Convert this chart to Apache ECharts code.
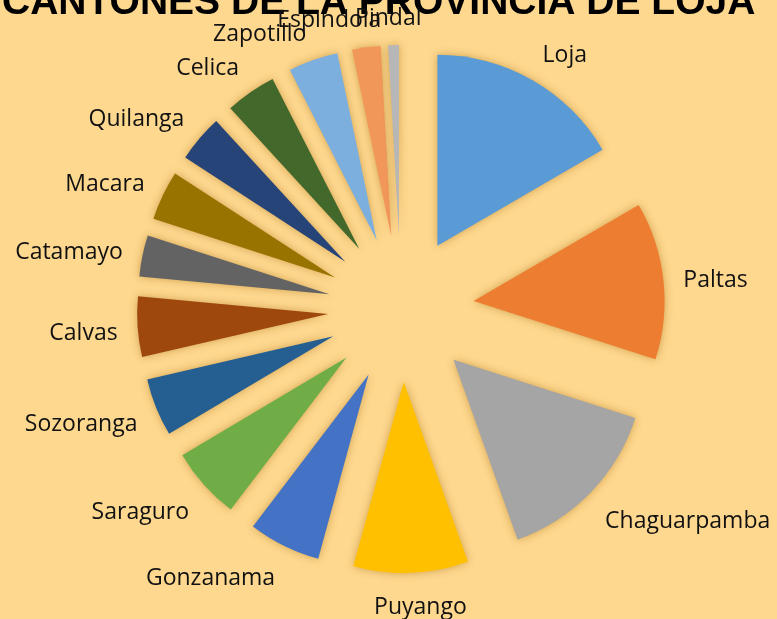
<!DOCTYPE html>
<html>
<head>
<meta charset="utf-8">
<script src="https://cdn.jsdelivr.net/npm/echarts@6/dist/echarts.min.js"></script>
<style>
html,body{margin:0;padding:0;background:#FED88F;}
#chart{width:777px;height:619px;}
</style>
</head>
<body>
<div id="chart"></div>
<script>
// Data (share of the pie, in %)
var categories = ['Loja','Paltas','Chaguarpamba','Puyango','Gonzanama','Saraguro','Sozoranga','Calvas','Catamayo','Macara','Quilanga','Celica','Zapotillo','Espindola','Pindal'];
var values = [16.6,13.3,14.6,9.7,6.1,6.1,4.9,5.1,3.5,4.2,4.0,4.3,4.2,2.4,0.9];
var colors = ['#5B9BD5','#ED7D31','#A5A5A5','#FFC000','#4472C4','#70AD47','#255E91','#9E480E','#636363','#997300','#264478','#43682B','#7CAFDD','#F1975A','#B7B7B7'];
var titleText = 'CANTONES DE LA PROVINCIA DE LOJA';

var CX = 401, CY = 309, R = 191, OFFSET = 73, GAP = 20, LABEL_H = 22, LABEL_DY = 4;

var total = values.reduce(function(a,b){return a+b;},0);
var mids = [];
(function(){
  var acc = 0;
  for (var i=0;i<values.length;i++){
    var a0 = acc/total*2*Math.PI; acc += values[i];
    var a1 = acc/total*2*Math.PI;
    mids.push((a0+a1)/2);
  }
})();
function clamp(v){return Math.max(-1,Math.min(1,v));}

// One pie series per exploded slice: every series lays out the full data,
// only slice i is painted, and its centre is pushed out along its bisector.
var series = categories.map(function(name, i){
  var sx = Math.sin(mids[i]), sy = -Math.cos(mids[i]);
  var ax = CX + OFFSET*sx, ay = CY + OFFSET*sy;
  return {
    type: 'pie',
    name: name,
    z: 3,
    center: [ax, ay],
    radius: R,
    startAngle: 90,
    clockwise: true,
    avoidLabelOverlap: false,
    silent: true,
    emphasis: {disabled: true},
    label: {show: false},
    labelLine: {show: false, length: 10, length2: 0},
    labelLayout: function(p){
      var px = ax + (R+GAP)*sx, py = ay + (R+GAP)*sy;
      var w = p.labelRect.width;
      return {
        x: px + w/2*clamp(5*sx),
        y: py + LABEL_H/2*clamp(1.4*sy) + LABEL_DY,
        align: 'center',
        verticalAlign: 'middle'
      };
    },
    data: categories.map(function(c, j){
      var on = (j === i);
      return {
        name: c,
        value: values[j],
        itemStyle: on ? {color: colors[j], shadowBlur: 9, shadowColor: 'rgba(150,95,0,0.45)'}
                      : {color: 'rgba(0,0,0,0)'},
        label: on ? {show: true, position: 'outside', fontFamily: 'Open Sans', fontSize: 23, color: '#111'}
                  : {show: false}
      };
    })
  };
});

var chart = echarts.init(document.getElementById('chart'), null, {renderer:'canvas'});
chart.setOption({
  backgroundColor: '#FED88F',
  animation: false,
  title: {
    text: titleText,
    left: -3,
    top: -21,
    z: 1,
    textStyle: {fontFamily:'Liberation Sans', fontWeight:'bold', fontSize:39, color:'#000'}
  },
  series: series
});
</script>
</body>
</html>
